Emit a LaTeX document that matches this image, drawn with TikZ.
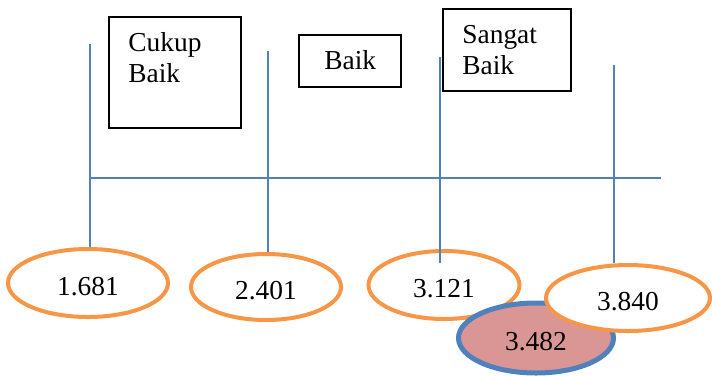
\documentclass[tikz,border=0pt]{standalone}
\usepackage{fontspec}
\setmainfont{Liberation Serif}
\usetikzlibrary{shapes.geometric}
\definecolor{axisblue}{HTML}{4F81BD}
\definecolor{ringorange}{HTML}{F79646}
\definecolor{meanpink}{HTML}{D99694}
\newcommand{\scaleFont}{\fontsize{13.7}{15}\selectfont}
\tikzset{
  axis line/.style={draw=axisblue, line width=1pt},
  grade box/.style={draw=black, line width=1pt, anchor=north west, inner sep=0pt},
  grade text/.style={anchor=base west, inner sep=0pt, align=left},
  score/.style={ellipse, draw=ringorange, fill=white, line width=2pt, inner sep=0pt,
    text height=12.5pt, text depth=0pt},
}

\begin{document}
\begin{tikzpicture}[x=0.5pt,y=-0.5pt,font=\scaleFont]
\useasboundingbox (0,0) rectangle (712,376);
\node[grade box, minimum width=66pt, minimum height=55.5pt] (cukupBox) at (108,16) {};
\node[grade text] (cukupText) at (128,82) {Cukup\\[0.5pt]Baik};
\node[grade box, minimum width=51pt, minimum height=26pt] (baikBox) at (298,34) {};
\node[grade text] (baikText) at (324,69) {Baik};
\node[grade box, minimum width=64pt, minimum height=41pt] (sangatBox) at (442,8) {};
\node[grade text] (sangatText) at (462,74) {Sangat\\[0.5pt]Baik};
\node[score, minimum width=80pt, minimum height=34pt] (e1) at (88,283) {1.681};
\node[score, minimum width=75pt, minimum height=33pt] (e2) at (266,287) {2.401};
\node[score, minimum width=75.5pt, minimum height=34pt] (e3) at (444,285) {3.121};
\node[score, draw=axisblue, fill=meanpink, line width=2.5pt, minimum width=77.5pt, minimum height=35pt] (mean) at (536,338) {3.482};
\node[score, minimum width=82pt, minimum height=33pt] (e4) at (628,298) {3.840};
\coordinate (t1) at (90,44);
\coordinate (t2) at (268,51);
\coordinate (t3) at (440,57);
\coordinate (b3) at (440,263);
\coordinate (t4) at (614,65);
\coordinate (axl) at (90,178);
\coordinate (axr) at (661,178);
\draw[axis line] (axl) -- (axr);
\draw[axis line] (t1) -- (t1 |- e1.north);
\draw[axis line] (t2) -- (t2 |- e2.north);
\draw[axis line] (t3) -- (b3);
\draw[axis line] (t4) -- (t4 |- e4.north);
\end{tikzpicture}
\end{document}
